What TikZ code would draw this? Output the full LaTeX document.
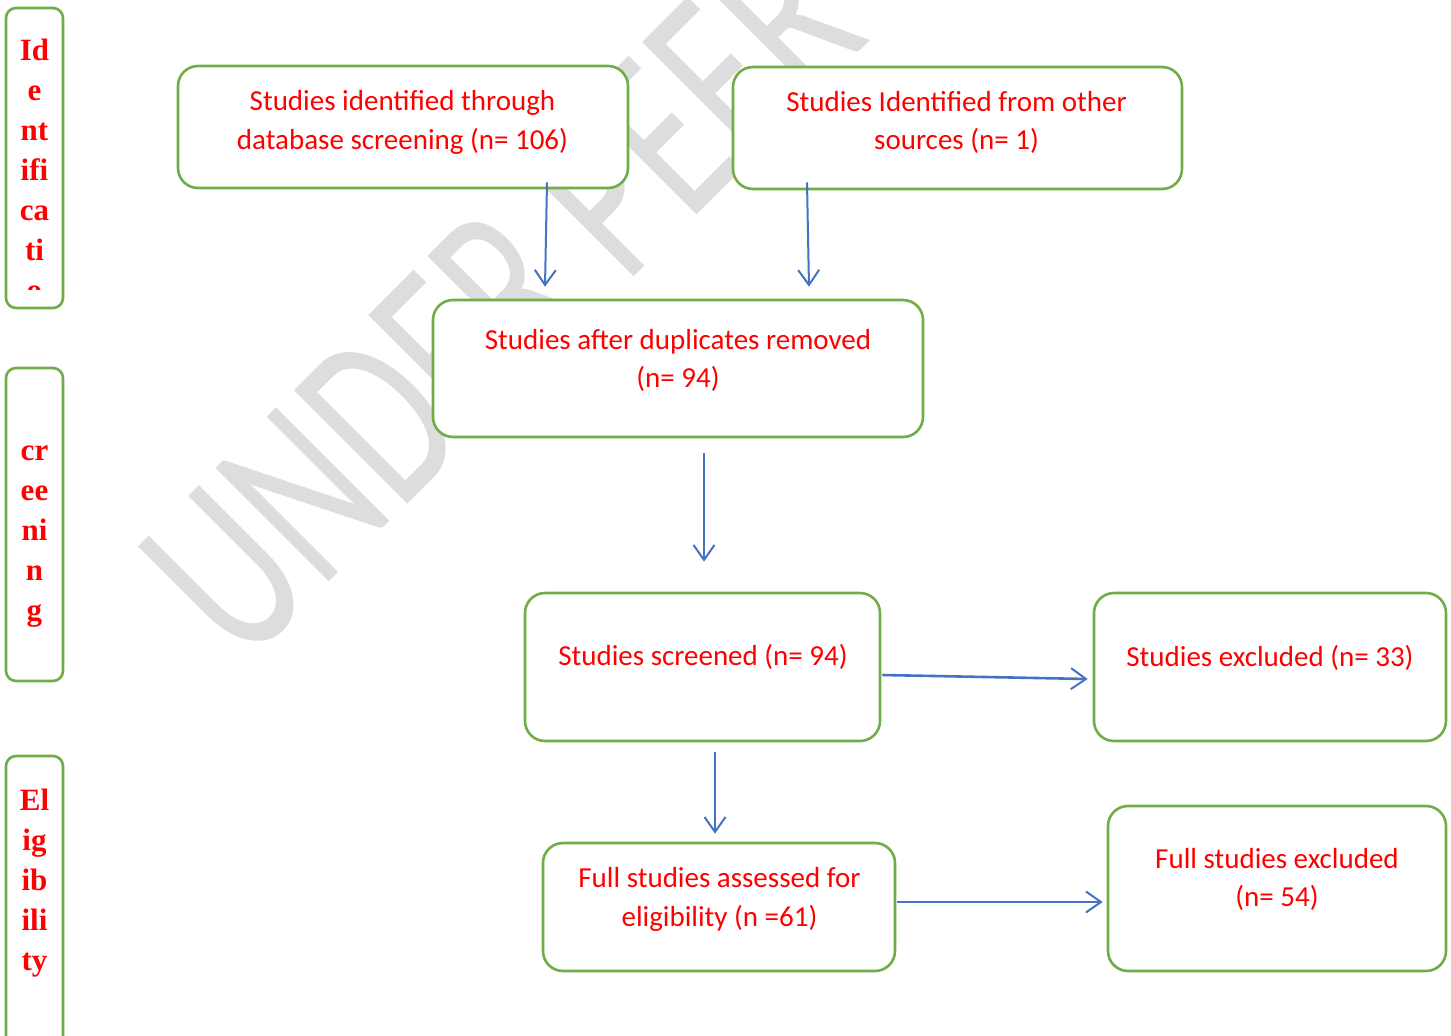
\documentclass[tikz,border=0pt]{standalone}
\usepackage{fontspec}
\setmainfont{Carlito}
\newfontfamily\sidefont{Liberation Serif}
\usetikzlibrary{arrows.meta,calc}
\definecolor{gbox}{HTML}{70AD47}
\definecolor{barr}{HTML}{4472C4}
\definecolor{wmgray}{HTML}{DDDDDD}
\begin{document}
\begin{tikzpicture}[x=1pt,y=-1pt,
  box/.style={draw=gbox, line width=2.6pt, rounded corners=20pt, fill=white, inner sep=0pt},
  sidebox/.style={draw=gbox, line width=2.6pt, rounded corners=10pt, fill=white},
  txt/.style={text=red, font=\fontsize{29}{38.5}\selectfont, align=center, inner sep=0pt},
  side/.style={text=red, font=\sidefont\bfseries\fontsize{31}{40}\selectfont, inner sep=0pt, anchor=base},
  arr/.style={draw=barr, line width=2pt, -{Straight Barb[length=15pt,width=21pt,line width=2pt]}},
  wmark/.style={text=wmgray, font=\fontsize{250}{250}\selectfont, inner sep=0pt, anchor=base west, rotate=45, xscale=0.685},
]
\useasboundingbox (0,0) rectangle (1451,1036);
% watermark
\begin{scope}
  \clip (0,0) rectangle (1451,1036);
  \node[wmark] (wm) at (243,668.5) {UNDER PEER};
\end{scope}
% side boxes
\draw[sidebox] (6,8) rectangle (63,308);
\draw[sidebox] (6,368) rectangle (63,681);
\draw[sidebox] (6,756) rectangle (63,1060);
\begin{scope}
  \clip (6,8) rectangle (63,289);
  \foreach \w [count=\k from 0] in {Id,e,nt,ifi,ca,ti,o}
    \node[side] (idl\k) at (34.5,60+40*\k) {\w};
\end{scope}
\foreach \w [count=\k from 0] in {cr,ee,ni,n,g}
  \node[side] (scl\k) at (34.5,460+40*\k) {\w};
\foreach \w [count=\k from 0] in {El,ig,ib,ili,ty}
  \node[side] (ell\k) at (34.5,810+40*\k) {\w};
% main boxes
\node[box, minimum width=450pt, minimum height=122pt] (A) at (403,127) {};
\node[box, minimum width=449pt, minimum height=122pt] (B) at (957.5,128) {};
\node[box, minimum width=490pt, minimum height=137pt] (C) at (678,368.5) {};
\node[box, minimum width=355pt, minimum height=148pt] (D) at (702.5,667) {};
\node[box, minimum width=352pt, minimum height=148pt] (E) at (1270,667) {};
\node[box, minimum width=352pt, minimum height=128pt] (F) at (719,907) {};
\node[box, minimum width=338pt, minimum height=165pt] (G) at (1277,888.5) {};
% texts
\node[txt] (At) at (402.5,122.3) {Studies identified through\\database screening (n= 106)};
\node[txt] (Bt) at (956.5,122.3) {Studies Identified from other\\sources (n= 1)};
\node[txt] (Ct) at (678,360.3) {Studies after duplicates removed\\(n= 94)};
\node[txt, anchor=base] (Dt) at (703,665) {Studies screened (n= 94)};
\node[txt, anchor=base] (Et) at (1270,666) {Studies excluded (n= 33)};
\node[txt] (Ft) at (719.5,899.3) {Full studies assessed for\\eligibility (n =61)};
\node[txt] (Gt) at (1277,879.3) {Full studies excluded\\(n= 54)};
% arrows
\draw[arr] ([xshift=144pt,yshift=7pt]A.south) -- ([xshift=-133pt,yshift=12pt]C.north);
\draw[arr] ([xshift=-150.5pt,yshift=8pt]B.south) -- ([xshift=131pt,yshift=12pt]C.north);
\draw[arr] ([xshift=26pt,yshift=-15pt]C.south) -- ([xshift=1.5pt,yshift=30pt]D.north);
\draw[arr, line width=2.6pt] ([xshift=1pt,yshift=-8pt]D.east) -- ([xshift=-5pt,yshift=-12pt]E.west);
\draw[arr] ([xshift=12.5pt,yshift=-10pt]D.south) -- ([xshift=-4pt,yshift=8pt]F.north);
\draw[arr, line width=2.6pt] ([xshift=1pt,yshift=5pt]F.east) -- ([xshift=-4pt,yshift=-13.5pt]G.west);
\end{tikzpicture}
\end{document}
